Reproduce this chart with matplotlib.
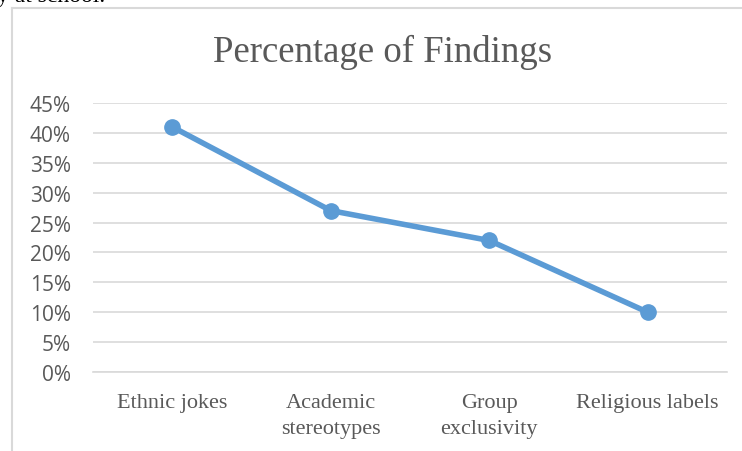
import matplotlib.pyplot as plt
from matplotlib.lines import Line2D
from matplotlib.ticker import FuncFormatter

categories = ['Ethnic jokes', 'Academic\nstereotypes', 'Group\nexclusivity', 'Religious labels']
findings = [0.41, 0.27, 0.22, 0.10]
yticks = [0.0, 0.05, 0.10, 0.15, 0.20, 0.25, 0.30, 0.35, 0.40, 0.45]

blue = '#5B9BD5'
grey_text = '#595959'
grid_col = '#D9D9D9'

fig = plt.figure(figsize=(7.42, 4.52), dpi=100)
ax = fig.add_axes([93 / 742, 1 - 373 / 452, 634 / 742, 269 / 452])

x = list(range(len(categories)))
ax.plot(x, findings, color=blue, linewidth=4, marker='o', markersize=11,
        solid_capstyle='round', zorder=3)

ax.set_xlim(-0.5, len(categories) - 0.5)
ax.set_ylim(0, 0.45)
ax.set_yticks(yticks)
ax.yaxis.set_major_formatter(FuncFormatter(lambda v, p: f"{round(v * 100)}%"))
ax.set_xticks(x)
ax.set_xticklabels(categories, family='Liberation Serif', fontsize=16, color=grey_text,
                   linespacing=1.5)
for lab in ax.get_yticklabels():
    lab.set_family('Open Sans')
    lab.set_fontsize(15)
    lab.set_color(grey_text)

ax.grid(axis='y', color=grid_col, linewidth=1.2)
ax.set_axisbelow(True)
for s in ['top', 'right', 'left']:
    ax.spines[s].set_visible(False)
ax.spines['bottom'].set_color(grid_col)
ax.spines['bottom'].set_linewidth(1.2)
ax.tick_params(axis='both', length=0)
ax.tick_params(axis='y', pad=16)
ax.tick_params(axis='x', pad=15)

# chart border (left and top)
fig.add_artist(Line2D([12 / 742, 12 / 742], [0, 1 - 9 / 452], color=grid_col, linewidth=1.5))
fig.add_artist(Line2D([12 / 742, 1], [1 - 9 / 452, 1 - 9 / 452], color=grid_col, linewidth=1.5))

fig.text(383 / 742, 1 - 52 / 452, 'Percentage of Findings', ha='center', va='center',
         family='Liberation Serif', fontsize=26.5, color=grey_text)
# text cut off above the chart
fig.text(-0.004, 1 - 2 / 452, 'y at school.', ha='left', va='baseline',
         family='Liberation Serif', fontsize=17, color='black')

fig.savefig('out.png', dpi=100)
